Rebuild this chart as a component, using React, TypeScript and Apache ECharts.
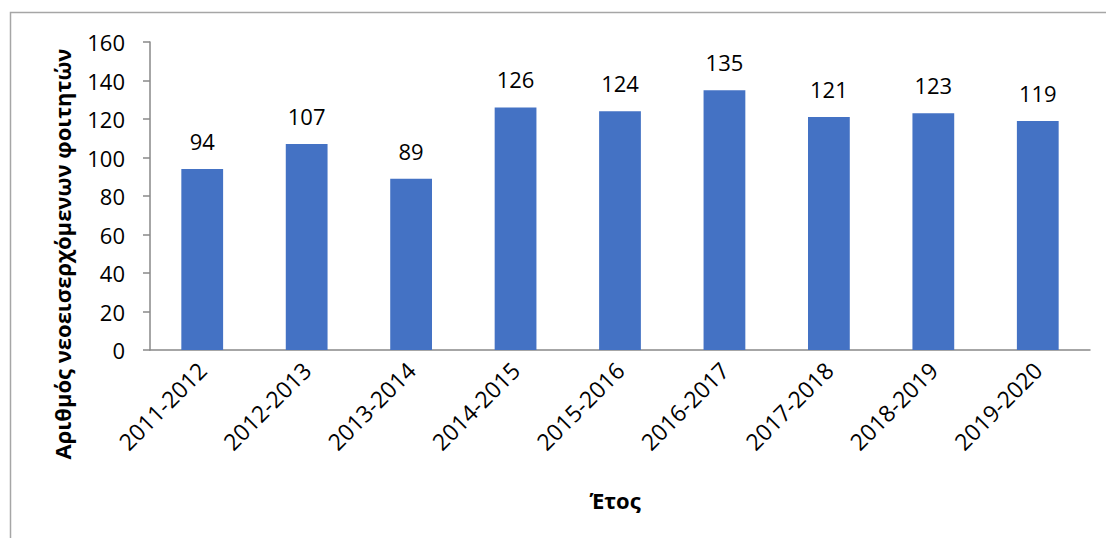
import React, { useEffect, useRef } from "react";
import * as echarts from "echarts";

const categories = [
  "2011-2012", "2012-2013", "2013-2014", "2014-2015", "2015-2016",
  "2016-2017", "2017-2018", "2018-2019", "2019-2020",
];
const values = [94, 107, 89, 126, 124, 135, 121, 123, 119];
const yTitle = "Αριθμός νεοεισερχόμενων φοιτητών";
const xTitle = "Έτος";

const FONT = "'Open Sans', 'Noto Sans', sans-serif";

export default function App() {
  const ref = useRef<HTMLDivElement>(null);
  useEffect(() => {
    if (!ref.current) return;
    const chart = echarts.init(ref.current, null, { renderer: "svg" });
    chart.setOption({
      animation: false,
      backgroundColor: "#ffffff",
      textStyle: { fontFamily: FONT },
      grid: { left: 150, top: 42, right: 16, bottom: 188, containLabel: false },
      xAxis: {
        type: "category",
        data: categories,
        axisLine: { show: true, lineStyle: { color: "#898989", width: 1.5 } },
        axisTick: { show: false },
        axisLabel: {
          rotate: 45,
          interval: 0,
          margin: 16,
          fontSize: 23,
          color: "#000",
          fontFamily: FONT,
        },
      },
      yAxis: {
        type: "value",
        min: 0,
        max: 160,
        interval: 20,
        axisLine: { show: true, lineStyle: { color: "#898989", width: 1.5 } },
        axisTick: { show: true, length: 7, lineStyle: { color: "#898989", width: 1.5 } },
        splitLine: { show: false },
        axisLabel: { margin: 25, fontSize: 22, color: "#000", fontFamily: FONT },
      },
      series: [
        {
          type: "bar",
          data: values,
          barWidth: "40%",
          itemStyle: { color: "#4472C4" },
          label: {
            show: true,
            position: "top",
            distance: 17,
            fontSize: 22,
            color: "#000",
            fontFamily: FONT,
          },
        },
      ],
      graphic: [
        {
          type: "rect",
          shape: { x: 10.5, y: 12.5, width: 1110, height: 540 },
          style: { fill: "none", stroke: "#A6A6A6", lineWidth: 1.5 },
          silent: true,
        },
        {
          type: "text",
          x: 62,
          y: 254,
          rotation: Math.PI / 2,
          style: {
            text: yTitle,
            fontSize: 22,
            fontWeight: "bold",
            fontFamily: FONT,
            fill: "#000",
            align: "center",
            verticalAlign: "middle",
          },
        },
        {
          type: "text",
          x: 615,
          y: 500,
          style: {
            text: xTitle,
            fontSize: 22,
            fontWeight: "bold",
            fontFamily: FONT,
            fill: "#000",
            align: "center",
            verticalAlign: "middle",
          },
        },
      ],
    });
    return () => chart.dispose();
  }, []);
  return (
    <div
      ref={ref}
      style={{ position: "fixed", left: 0, top: 0, width: 1106, height: 538 }}
    />
  );
}
